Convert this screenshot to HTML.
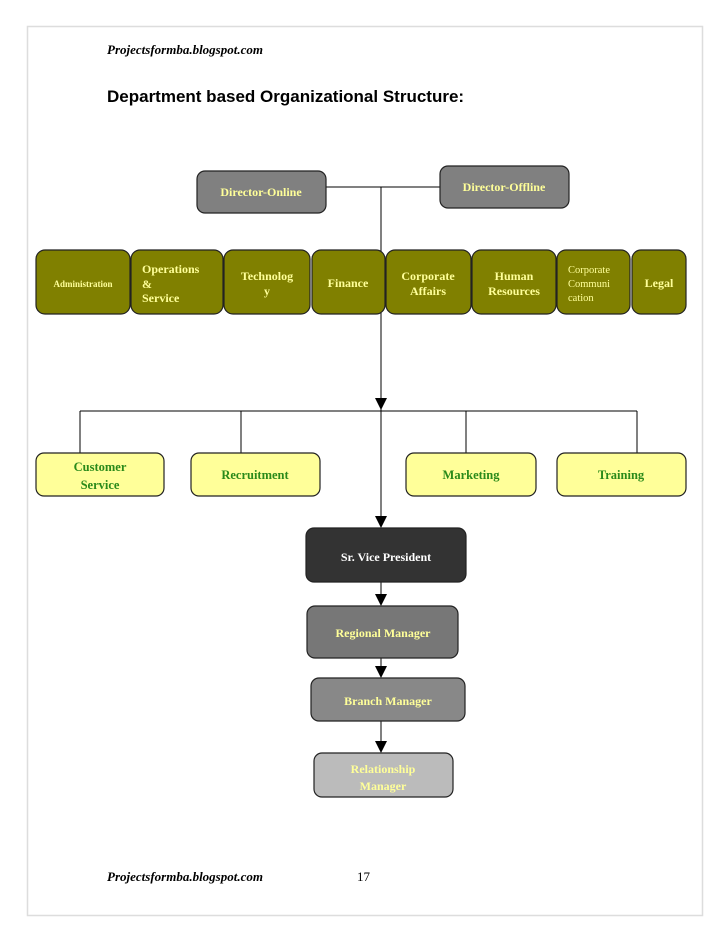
<!DOCTYPE html>
<html><head><meta charset="utf-8"><style>
body{margin:0;background:#fff;width:728px;height:943px;overflow:hidden}
svg text{font-family:"Liberation Serif",serif;font-weight:bold}
</style></head><body>
<svg width="728" height="943" viewBox="0 0 728 943" xmlns="http://www.w3.org/2000/svg">
<rect x="27.5" y="26.5" width="675" height="889" fill="none" stroke="#ddd" stroke-width="1.5"/>
<text x="107" y="54" font-size="13" font-style="italic">Projectsformba.blogspot.com</text>
<text x="107" y="102" font-size="17" style="font-family:'Liberation Sans',sans-serif">Department based Organizational Structure:</text>
<g stroke="#000" stroke-width="1" fill="none">
<line x1="326" y1="187" x2="440" y2="187"/>
<line x1="381" y1="187" x2="381" y2="520"/>
<line x1="80" y1="411" x2="637" y2="411"/>
<line x1="80" y1="411" x2="80" y2="453"/>
<line x1="241" y1="411" x2="241" y2="453"/>
<line x1="466" y1="411" x2="466" y2="453"/>
<line x1="637" y1="411" x2="637" y2="453"/>
<line x1="381" y1="582" x2="381" y2="596"/>
<line x1="381" y1="658" x2="381" y2="668"/>
<line x1="381" y1="721" x2="381" y2="742"/>
</g>
<g fill="#000">
<polygon points="375,398 387,398 381,410"/>
<polygon points="375,516 387,516 381,528"/>
<polygon points="375,594 387,594 381,606"/>
<polygon points="375,666 387,666 381,678"/>
<polygon points="375,741 387,741 381,753"/>
</g>
<g stroke="#222" stroke-width="1.2">
<rect x="197" y="171" width="129" height="42" rx="8" fill="#808080"/>
<rect x="440" y="166" width="129" height="42" rx="8" fill="#808080"/>
<g fill="#808000">
<rect x="36" y="250" width="94" height="64" rx="9"/>
<rect x="131" y="250" width="92" height="64" rx="9"/>
<rect x="224" y="250" width="86" height="64" rx="9"/>
<rect x="312" y="250" width="73" height="64" rx="9"/>
<rect x="386" y="250" width="85" height="64" rx="9"/>
<rect x="472" y="250" width="84" height="64" rx="9"/>
<rect x="557" y="250" width="73" height="64" rx="9"/>
<rect x="632" y="250" width="54" height="64" rx="9"/>
</g>
<g fill="#ffff99">
<rect x="36" y="453" width="128" height="43" rx="8"/>
<rect x="191" y="453" width="129" height="43" rx="8"/>
<rect x="406" y="453" width="130" height="43" rx="8"/>
<rect x="557" y="453" width="129" height="43" rx="8"/>
</g>
<rect x="306" y="528" width="160" height="54" rx="8" fill="#333"/>
<rect x="307" y="606" width="151" height="52" rx="8" fill="#777"/>
<rect x="311" y="678" width="154" height="43" rx="8" fill="#888"/>
<rect x="314" y="753" width="139" height="44" rx="8" fill="#bbb"/>
</g>
<line x1="381" y1="314" x2="381" y2="398" stroke="#000"/>
<g fill="#ffff99" font-size="12" text-anchor="middle">
<text x="261" y="196">Director-Online</text>
<text x="504" y="191">Director-Offline</text>
<text x="83" y="287" font-size="9">Administration</text>
<text x="142" y="273" text-anchor="start">Operations</text>
<text x="142" y="288" text-anchor="start">&amp;</text>
<text x="142" y="302" text-anchor="start">Service</text>
<text x="267" y="280">Technolog</text>
<text x="267" y="295">y</text>
<text x="348" y="287">Finance</text>
<text x="428" y="280">Corporate</text>
<text x="428" y="295">Affairs</text>
<text x="514" y="280">Human</text>
<text x="514" y="295">Resources</text>
<g font-size="10.5" text-anchor="start">
<text x="568" y="273" style="font-weight:normal">Corporate</text>
<text x="568" y="287" style="font-weight:normal">Communi</text>
<text x="568" y="301" style="font-weight:normal">cation</text>
</g>
<text x="659" y="287">Legal</text>
</g>
<g fill="#2a8a1a" font-size="12.5" text-anchor="middle">
<text x="100" y="471">Customer</text>
<text x="100" y="489">Service</text>
<text x="255" y="479">Recruitment</text>
<text x="471" y="479">Marketing</text>
<text x="621" y="479">Training</text>
</g>
<g font-size="12" text-anchor="middle">
<text x="386" y="561" fill="#fff">Sr. Vice President</text>
<text x="383" y="637" fill="#ffff99">Regional Manager</text>
<text x="388" y="705" fill="#ffff99">Branch Manager</text>
<text x="383" y="773" fill="#ffff99">Relationship</text>
<text x="383" y="790" fill="#ffff99">Manager</text>
</g>
<text x="107" y="881" font-size="13" font-style="italic">Projectsformba.blogspot.com</text>
<text x="357" y="881" font-size="13" style="font-weight:normal">17</text>
</svg>
</body></html>
